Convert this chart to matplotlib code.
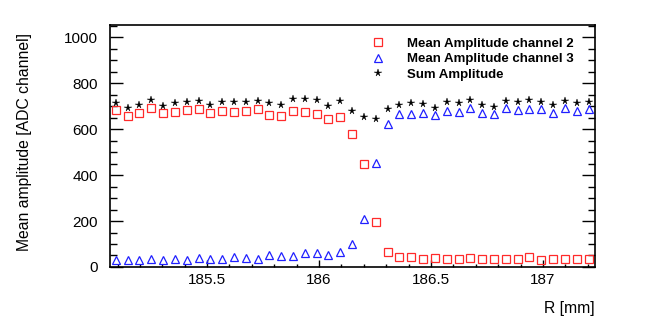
import matplotlib
matplotlib.use("Agg")
import matplotlib.pyplot as plt
from matplotlib.ticker import MultipleLocator

plt.rcParams['font.family'] = ['Liberation Sans', 'DejaVu Sans']

# radial position of each scan step [mm]
r_mm = [185.092, 185.145, 185.197, 185.250, 185.303, 185.356, 185.409, 185.462,
        185.514, 185.567, 185.620, 185.673, 185.726, 185.778, 185.831, 185.884,
        185.937, 185.990, 186.042, 186.095, 186.148, 186.201, 186.254, 186.306,
        186.359, 186.412, 186.465, 186.518, 186.570, 186.623, 186.676, 186.729,
        186.782, 186.834, 186.887, 186.940, 186.993, 187.046, 187.098, 187.151,
        187.204]

# mean amplitude, channel 2 [ADC channel]
amp_ch2 = [683, 658, 670, 693, 668, 675, 684, 686, 670, 680, 674, 680, 687, 661,
           655, 680, 674, 664, 645, 652, 580, 446, 196, 64, 42, 45, 36, 40, 33,
           36, 37, 33, 35, 33, 34, 42, 32, 34, 33, 33, 34]

# mean amplitude, channel 3 [ADC channel]
amp_ch3 = [30, 30, 30, 33, 32, 35, 32, 38, 33, 33, 42, 38, 36, 51, 46, 46, 59,
           62, 51, 67, 99, 209, 451, 622, 664, 667, 671, 659, 680, 675, 690, 668,
           664, 690, 683, 686, 687, 668, 690, 678, 686]

# sum amplitude [ADC channel]
amp_sum = [712, 690, 703, 726, 700, 714, 719, 723, 706, 717, 719, 717, 723, 714,
           703, 729, 732, 726, 700, 722, 677, 652, 643, 686, 704, 713, 707, 693,
           719, 712, 726, 703, 697, 723, 717, 725, 719, 704, 723, 713, 719]

fig = plt.figure(figsize=(6.48, 3.26), dpi=100)
ax = fig.add_axes([0.170, 0.181, 0.748, 0.742])

ax.plot(r_mm, amp_ch2, ls='none', marker='s', ms=5.5, mfc='none', mec='#ff2a2a',
        mew=0.9, label='Mean Amplitude channel 2')
ax.plot(r_mm, amp_ch3, ls='none', marker='^', ms=6, mfc='none', mec='#2020ff',
        mew=0.9, label='Mean Amplitude channel 3')
ax.plot(r_mm, amp_sum, ls='none', marker='*', ms=5.3, mfc='black', mec='black',
        mew=0.3, label='Sum Amplitude')

ax.set_xlim(185.067, 187.232)
ax.set_ylim(0, 1052)

ax.xaxis.set_major_locator(MultipleLocator(0.5))
ax.xaxis.set_minor_locator(MultipleLocator(0.1))
ax.yaxis.set_major_locator(MultipleLocator(200))
ax.yaxis.set_minor_locator(MultipleLocator(50))
ax.xaxis.set_major_formatter(plt.FuncFormatter(lambda v, p: f"{v:g}"))

ax.tick_params(axis='x', which='major', direction='in', length=5, width=1.0,
               labelsize=11, pad=4, top=False)
ax.tick_params(axis='x', which='minor', direction='in', length=2.5, width=1.0, top=False)
ax.tick_params(axis='y', which='major', direction='in', length=9.5, width=1.0,
               labelsize=11, pad=9, right=True)
ax.tick_params(axis='y', which='minor', direction='in', length=4.7, width=1.0, right=True)
for s in ax.spines.values():
    s.set_linewidth(1.2)

fig.text(25 / 648, 1 - 141.5 / 326, 'Mean amplitude [ADC channel]', rotation=90,
         ha='center', va='center', fontsize=11.3)
fig.text(595 / 648, 1 - 309 / 326, 'R [mm]', ha='right', va='center', fontsize=11.3)

ax.legend(loc='upper left', bbox_to_anchor=(364.5 / 648, 1 - 37.5 / 326),
          bbox_transform=fig.transFigure, frameon=False, borderpad=0,
          borderaxespad=0, handlelength=2, handletextpad=1.24, labelspacing=0.25,
          prop={'weight': 'bold', 'size': 9.5})

fig.savefig('out.png', dpi=100)
